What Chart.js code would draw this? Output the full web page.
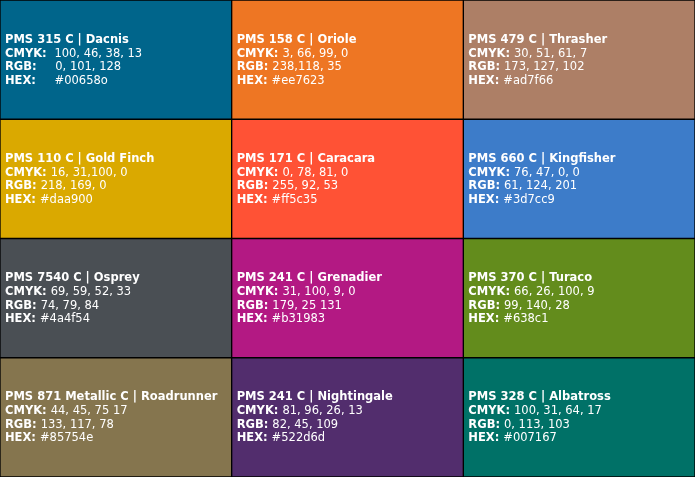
<!DOCTYPE html>
<html>
<head>
<meta charset="utf-8">
<script src="https://cdn.jsdelivr.net/npm/chart.js@4/dist/chart.umd.min.js"></script>
<style>
  html, body { margin: 0; padding: 0; background: #000; }
  #wrap { width: 695px; height: 477px; }
</style>
</head>
<body>
<div id="wrap"><canvas id="swatches"></canvas></div>
<script>
// columnas x filas (cada columna de arriba a abajo)
const columns = ['c1', 'c2', 'c3'];
const titles = [
    ['PMS 315 C | Dacnis', 'PMS 110 C | Gold Finch', 'PMS 7540 C | Osprey', 'PMS 871 Metallic C | Roadrunner'],
    ['PMS 158 C | Oriole', 'PMS 171 C | Caracara', 'PMS 241 C | Grenadier', 'PMS 241 C | Nightingale'],
    ['PMS 479 C | Thrasher', 'PMS 660 C | Kingfisher', 'PMS 370 C | Turaco', 'PMS 328 C | Albatross']
];
const cmyk = [
    [' 100, 46, 38, 13', '16, 31,100, 0', '69, 59, 52, 33', '44, 45, 75 17'],
    ['3, 66, 99, 0', '0, 78, 81, 0', '31, 100, 9, 0', '81, 96, 26, 13'],
    ['30, 51, 61, 7', '76, 47, 0, 0', '66, 26, 100, 9', '100, 31, 64, 17']
];
const rgb = [
    ['    0, 101, 128', '218, 169, 0', '74, 79, 84', '133, 117, 78'],
    ['238,118, 35', '255, 92, 53', '179, 25 131', '82, 45, 109'],
    ['173, 127, 102', '61, 124, 201', '99, 140, 28', '0, 113, 103']
];
const hex = [
    ['    #00658o', '#daa900', '#4a4f54', '#85754e'],
    ['#ee7623', '#ff5c35', '#b31983', '#522d6d'],
    ['#ad7f66', '#3d7cc9', '#638c1', '#007167']
];
const fills = [
    ['#00658b', '#daa900', '#4a4f54', '#85754e'],
    ['#ee7623', '#ff5235', '#b31983', '#522d6d'],
    ['#ad7f66', '#3d7cc9', '#638c1c', '#007167']
];
const rowValue = [1, 1, 1, 1];

// un dataset por fila, apilados
const datasets = rowValue.map((v, r) => ({
    data: columns.map(() => v),
    backgroundColor: columns.map((c, k) => fills[k][r]),
    borderColor: '#000',
    borderWidth: 1,
    borderSkipped: false,
    barPercentage: 1,
    categoryPercentage: 1
}));

const textPlugin = {
    id: 'swatchText',
    afterDatasetsDraw(chart) {
        const ctx = chart.ctx;
        ctx.save();
        ctx.fillStyle = '#fff';
        ctx.textBaseline = 'middle';
        chart.data.datasets.forEach((ds, r) => {
            chart.getDatasetMeta(r).data.forEach((bar, k) => {
                const left = bar.x - bar.width / 2 + 5;
                const cy = (bar.y + bar.base) / 2;
                ctx.font = 'bold 11.5px "DejaVu Sans"';
                ctx.fillText(titles[k][r], left, cy - 20);
                const rows = [['CMYK:', cmyk[k][r]], ['RGB:', rgb[k][r]], ['HEX:', hex[k][r]]];
                rows.forEach((p, i) => {
                    const y = cy - 6 + i * 13.5;
                    ctx.font = 'bold 11.5px "DejaVu Sans"';
                    ctx.fillText(p[0], left, y);
                    const w = ctx.measureText(p[0] + ' ').width;
                    ctx.font = '11.5px "DejaVu Sans"';
                    ctx.fillText(p[1], left + w, y);
                });
            });
        });
        ctx.restore();
    }
};

new Chart(document.getElementById('swatches'), {
    type: 'bar',
    data: { labels: columns, datasets: datasets },
    options: {
        responsive: true,
        maintainAspectRatio: false,
        animation: false,
        layout: { padding: 0 },
        plugins: { legend: { display: false }, tooltip: { enabled: false } },
        scales: {
            x: { stacked: true, display: false },
            y: { stacked: true, display: false, reverse: true, min: 0, max: 4 }
        }
    },
    plugins: [textPlugin]
});
</script>
</body>
</html>
